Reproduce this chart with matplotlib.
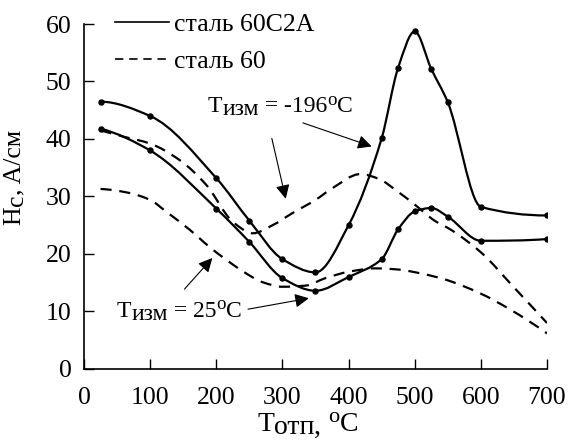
import numpy as np
import matplotlib as mpl
import matplotlib.pyplot as plt
from matplotlib.path import Path
from matplotlib.patches import PathPatch
from matplotlib.lines import Line2D
mpl.rcParams.update({"font.family": "Liberation Serif",
                     "font.size": 18.5,
                     "axes.unicode_minus": False})

# сталь 60С2А, T изм = -196 C (точки)
t_a = [25, 100, 200, 250, 300, 350, 400, 450, 475, 500, 525, 550, 600, 700]
hc_a_196 = [46.5, 44.0, 33.2, 25.8, 19.1, 16.8, 25.0, 40.1, 52.4, 58.7, 52.2, 46.4, 28.2, 26.7]
# сталь 60С2А, T изм = 25 C (точки)
hc_a_25 = [41.8, 38.0, 27.9, 22.1, 15.8, 13.6, 16.0, 19.1, 24.3, 27.4, 28.0, 26.5, 22.3, 22.6]

# сталь 60, T изм = -196 C (кривая без точек)
t_b196 = [25, 60, 100, 145, 185, 225, 255, 285, 315, 350, 375, 418, 445, 475, 500, 530, 555, 600, 650, 700]
hc_b196 = [41.5, 40.4, 39.2, 36.3, 32.0, 25.6, 23.6, 25.0, 27.1, 29.4, 31.4, 33.9, 33.1, 30.8, 28.6, 25.8, 24.2, 20.3, 14.2, 8.0]
# сталь 60, T изм = 25 C
t_b25 = [25, 65, 100, 125, 160, 190, 215, 240, 270, 300, 335, 365, 400, 440, 475, 510, 545, 600, 645, 700]
hc_b25 = [31.3, 30.7, 29.4, 27.3, 24.2, 21.2, 19.0, 17.0, 15.1, 14.3, 14.5, 15.8, 16.9, 17.5, 17.3, 16.6, 15.6, 13.1, 10.3, 6.2]

x_ticks = [0, 100, 200, 300, 400, 500, 600, 700]
y_ticks = [0, 10, 20, 30, 40, 50, 60]
legend_labels = ["сталь 60С2А", "сталь 60"]


def pchip_path(x, y):
    # monotone cubic (Fritsch-Carlson) as bezier path
    x = np.asarray(x, float)
    y = np.asarray(y, float)
    h = np.diff(x)
    d = np.diff(y) / h
    m = np.zeros_like(y)
    for k in range(1, len(x) - 1):
        if d[k - 1] * d[k] > 0:
            w1 = 2 * h[k] + h[k - 1]
            w2 = h[k] + 2 * h[k - 1]
            m[k] = (w1 + w2) / (w1 / d[k - 1] + w2 / d[k])
    for k, (h0, h1, d0, d1) in ((0, (h[0], h[1], d[0], d[1])), (-1, (h[-1], h[-2], d[-1], d[-2]))):
        mm = ((2 * h0 + h1) * d0 - h0 * d1) / (h0 + h1)
        if mm * d0 <= 0:
            mm = 0.0
        elif d0 * d1 <= 0 and abs(mm) > 3 * abs(d0):
            mm = 3 * d0
        m[k] = mm
    verts = [(x[0], y[0])]
    codes = [Path.MOVETO]
    for i in range(len(h)):
        verts += [(x[i] + h[i] / 3, y[i] + m[i] * h[i] / 3),
                  (x[i + 1] - h[i] / 3, y[i + 1] - m[i + 1] * h[i] / 3),
                  (x[i + 1], y[i + 1])]
        codes += [Path.CURVE4] * 3
    return Path(verts, codes)


def rich(ax, x, y, parts, transform, fs=18.5, rot=0):
    # parts: (text, scale, shift_pt); scale<1 -> superscript aligned at top
    first = ax.text(x, y, parts[0][0], transform=transform, fontsize=fs * parts[0][1],
                    ha='left', va='baseline', rotation=rot)
    prev = first
    for s, sc, dy in parts[1:]:
        if rot == 0:
            xy = (1, 1) if sc < 1 else (1, 0)
            ax.annotate(s, xy=xy, xycoords=(prev, first), xytext=(0, dy),
                        textcoords='offset points', fontsize=fs * sc,
                        ha='left', va='top' if sc < 1 else 'bottom')
        else:
            xy = (0, 1) if sc < 1 else (1, 1)
            ax.annotate(s, xy=xy, xycoords=(first, prev), xytext=(-dy, 0),
                        textcoords='offset points', fontsize=fs * sc, rotation=rot,
                        ha='left' if sc < 1 else 'right', va='bottom')
        prev = ax.texts[-1]


def arrow(ax, xy_from, xy_to):
    ax.annotate("", xy=xy_to, xytext=xy_from,
                arrowprops=dict(arrowstyle='-|>', mutation_scale=21, lw=0.8,
                                color='k', shrinkA=0, shrinkB=0))


def main():
    fig = plt.figure(figsize=(5.69, 4.42), dpi=100)
    ax = fig.add_axes([0.1476, 0.1652, 0.8137, 0.7805])

    for yy in (hc_a_196, hc_a_25):
        ax.add_patch(PathPatch(pchip_path(t_a, yy), fill=False, lw=1.6, ec='k'))
        ax.plot(t_a, yy, 'o', ms=3.6, color='k', lw=0)
    for xx, yy in ((t_b196, hc_b196), (t_b25, hc_b25)):
        ax.add_patch(PathPatch(pchip_path(xx, yy), fill=False, lw=1.6, ec='k',
                               linestyle=(0, (5, 3.5))))

    ax.set_xlim(0, 700)
    ax.set_ylim(0, 60)
    ax.set_xticks(x_ticks)
    ax.set_yticks(y_ticks)
    ax.tick_params(direction='in', length=7.5, width=1, labelsize=18.5)
    ax.tick_params(axis='x', pad=13)
    ax.tick_params(axis='y', pad=9)
    ax.spines['top'].set_visible(False)
    ax.spines['right'].set_visible(False)
    for s in ('left', 'bottom'):
        ax.spines[s].set_linewidth(1.2)

    handles = [Line2D([], [], color='k', lw=1.2),
               Line2D([], [], color='k', lw=1.2, linestyle=(0, (5, 3.5)))]
    ax.legend(handles, legend_labels, loc='upper left', bbox_to_anchor=(0.067, 1.031),
              frameon=False, borderpad=0, borderaxespad=0, handlelength=2.1,
              handletextpad=0.2, labelspacing=0.55, fontsize=18.5)

    # annotations
    fa = 17
    rich(ax, 187.5, 44.7, [("T", 1, 0), ("изм", 1, -2.4), (" = -196", 1, 0), ("o", 0.8, 3), ("C", 1, 0)],
         ax.transData, fs=fa)
    arrow(ax, (284, 40.1), (305, 29.6))
    arrow(ax, (331, 42.8), (435, 38.7))

    rich(ax, 49.4, 9.1, [("T", 1, 0), ("изм", 1, -2.4), (" = 25", 1, 0), ("o", 0.8, 3), ("C", 1, 0)],
         ax.transData, fs=fa)
    arrow(ax, (152, 13.9), (194, 19.3))
    arrow(ax, (248, 10.4), (340, 12.3))

    # axis labels
    rich(ax, 0.3737, -0.18, [("T", 1, 0), ("отп", 1, -2), (", ", 1, -2), ("o", 0.8, 3), ("C", 1, 0)],
         ax.transAxes, fs=20)
    rich(ax, -0.175, 0.432, [("H", 1, 0), ("c", 1, -2), (", A/см", 1, 0)],
         ax.transAxes, rot=90)

    plt.savefig('out.png')


if __name__ == '__main__':
    main()
